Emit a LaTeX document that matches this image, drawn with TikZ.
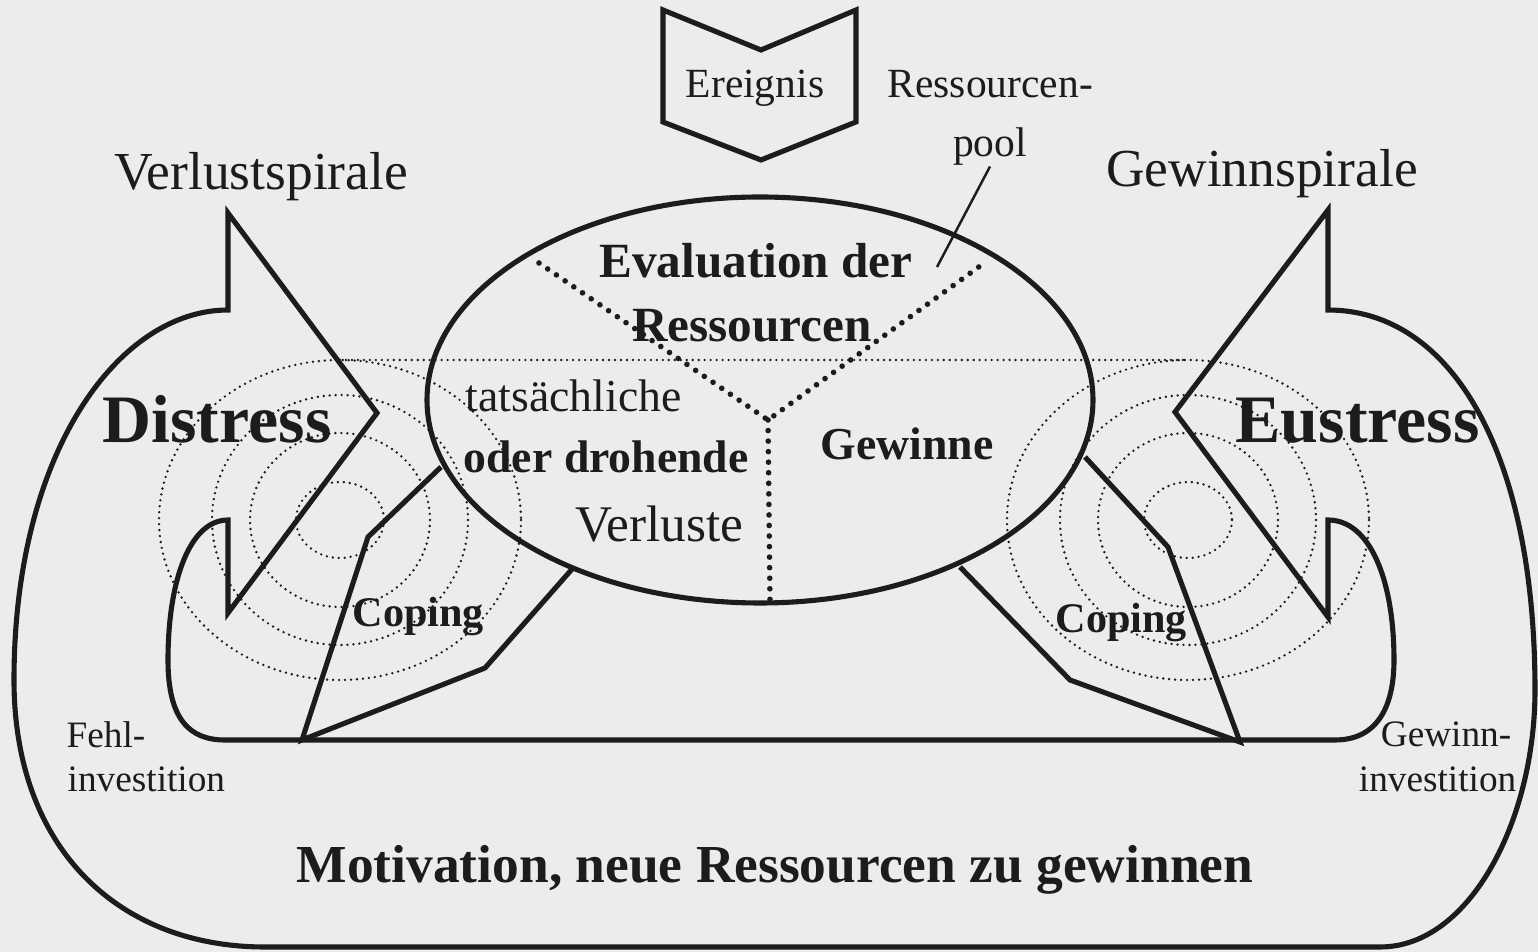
\documentclass[tikz,border=0pt]{standalone}
\usepackage{fontspec}
\setmainfont{Liberation Serif}
\newcommand{\sizept}[1]{\fontsize{#1pt}{#1pt}\selectfont}
\definecolor{paper}{RGB}{236,236,234}
\definecolor{ink}{RGB}{28,28,28}

\begin{document}
\begin{tikzpicture}[x=0.01cm,y=-0.01cm,
  wall/.style={draw=ink,line width=1.45pt},
  ring/.style={draw=ink,line width=0.75pt,dash pattern=on 0pt off 1.7pt,line cap=round},
  ydots/.style={draw=ink,line width=1.6pt,dash pattern=on 0pt off 3pt,line cap=round},
  leader/.style={draw=ink,line width=0.7pt},
  lbl/.style={inner sep=0pt,text=ink,anchor=base}]
\useasboundingbox (0,0) rectangle (1538,952);
\fill[paper] (0,0) rectangle (1538,952);

\foreach \rx/\ry in {44/38,90/87,128/125,181/160} {
  \draw[ring] (340,520) ellipse [x radius=\rx, y radius=\ry];
  \draw[ring] (1188,520) ellipse [x radius=\rx, y radius=\ry];
}
\draw[ring] (340,360) -- (1188,360);

\draw[wall] (228,213) -- (377,413) -- (228,613) -- (228,520)
  .. controls (190,520) and (168,580) .. (168,660)
  .. controls (168,720) and (190,740) .. (225,740)
  -- (1335,740)
  .. controls (1375,740) and (1394,710) .. (1394,660)
  .. controls (1394,580) and (1370,520) .. (1328,520)
  -- (1328,617) -- (1175,412) -- (1328,210) -- (1328,310)
  .. controls (1450,310) and (1535,450) .. (1535,690)
  .. controls (1535,820) and (1470,947) .. (1380,947)
  -- (265,947)
  .. controls (120,947) and (14,850) .. (14,680)
  .. controls (14,450) and (120,310) .. (228,310)
  -- cycle;

\draw[wall] (760,400) ellipse [x radius=333, y radius=203];
\draw[wall] (441,467) -- (368,537) -- (302,740) -- (485,668) -- (573,568);
\draw[wall] (960,567) -- (1070,680) -- (1240,742) -- (1168,547) -- (1085,457);
\draw[wall] (663,10) -- (761,50) -- (856,10) -- (856,122) -- (761,160) -- (663,122) -- cycle;

\coordinate (fork) at (768,420);
\draw[ydots] (539,263) -- (fork) -- (987,261);
\draw[ydots] (fork) -- (770,600);

\node (ereignis) [lbl,font=\sizept{11.8}] at (755,98) {Ereignis};
\node (respool) [lbl,font=\sizept{11.8},anchor=base west] at (887,98) {Ressourcen-};
\node (pool) [lbl,font=\sizept{11.8}] at (990,157) {pool};
\coordinate (poolfoot) at (937,267);
\draw[leader] (pool.south) -- (poolfoot);

\node (verlspir) [lbl,font=\sizept{15.2}] at (261,190) {Verlustspirale};
\node (gewspir) [lbl,font=\sizept{15.2}] at (1262,187) {Gewinnspirale};

\node (evala) [lbl,font=\sizept{14}\bfseries] at (756,278) {Evaluation der};
\node (evalb) [lbl,font=\sizept{14}\bfseries] at (752,342) {Ressourcen};
\node (tats) [lbl,font=\sizept{13},anchor=base west] at (465,412) {tatsächliche};
\node (oder) [lbl,font=\sizept{13}\bfseries,anchor=base west] at (463,473) {oder drohende};
\node (verl) [lbl,font=\sizept{14.6},anchor=base east] at (744,542) {Verluste};
\node (gew) [lbl,font=\sizept{13}\bfseries] at (907,460) {Gewinne};

\node (distress) [lbl,font=\sizept{19.3}\bfseries,anchor=base west] at (102,443) {Distress};
\node (eustress) [lbl,font=\sizept{19.3}\bfseries,anchor=base west] at (1235,443) {Eustress};
\node (copl) [lbl,font=\sizept{12}\bfseries,anchor=base west] at (352,627) {Coping};
\node (copr) [lbl,font=\sizept{12}\bfseries,anchor=base west] at (1055,633) {Coping};

\node (fehl) [lbl,font=\sizept{10.6},anchor=base west] at (66,748) {Fehl-};
\node (fehlinv) [lbl,font=\sizept{10.6},anchor=base west] at (67,792) {investition};
\node (gewn) [lbl,font=\sizept{10.6},anchor=base east] at (1512,747) {Gewinn-};
\node (gewinv) [lbl,font=\sizept{10.6},anchor=base east] at (1517,792) {investition};

\node (motiv) [lbl,font=\sizept{15.2}\bfseries] at (775,883) {Motivation, neue Ressourcen zu gewinnen};
\end{tikzpicture}
\end{document}
